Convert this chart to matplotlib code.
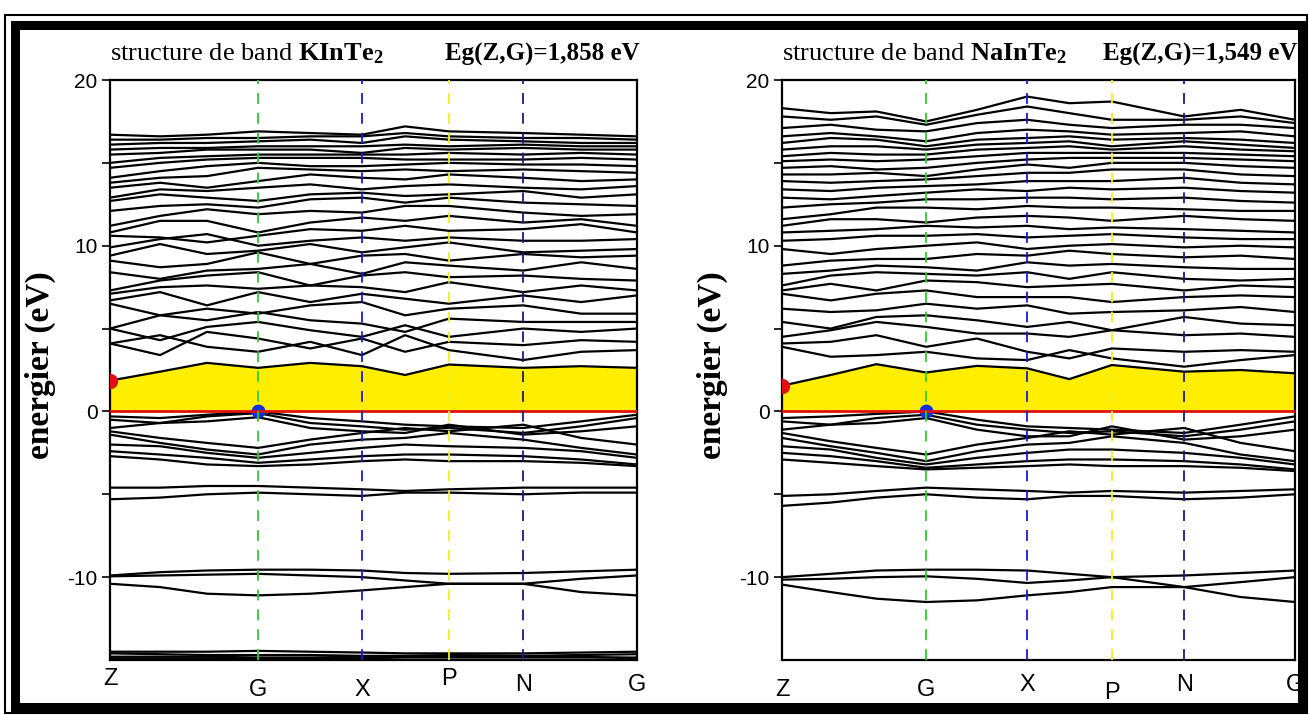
import matplotlib
matplotlib.use("Agg")
import matplotlib.pyplot as plt
from matplotlib.patches import Rectangle

# ---------------- data ----------------
# high-symmetry labels and positions along the k-path (fraction of path length)
k_labels = ["Z", "G", "X", "P", "N", "G"]
k_label_pos = [0.0, 0.281, 0.478, 0.643, 0.784, 1.0]
# sampling nodes along the path: Z, a, b, G, c, X, d, P, N, e, G
k_nodes = [0.0, 0.095, 0.184, 0.281, 0.380, 0.478, 0.560, 0.643, 0.784, 0.894, 1.0]

# ---- KInTe2 ----
kinte2_core = [
    [-14.50, -14.50, -14.50, -14.45, -14.50, -14.55, -14.60, -14.60, -14.60, -14.55, -14.50],
    [-14.60, -14.65, -14.70, -14.70, -14.70, -14.75, -14.75, -14.70, -14.75, -14.80, -14.90],
    [-14.80, -14.80, -14.80, -14.85, -14.85, -14.80, -14.80, -14.75, -14.75, -14.70, -14.65],
    [-14.90, -14.90, -14.90, -14.90, -14.90, -14.90, -14.85, -14.85, -14.85, -14.85, -14.85],
    [-9.90, -9.70, -9.60, -9.55, -9.55, -9.60, -9.75, -9.80, -9.75, -9.65, -9.55],
    [-9.95, -9.90, -9.85, -9.80, -9.90, -10.00, -10.20, -10.40, -10.40, -10.10, -9.90],
    [-10.40, -10.60, -11.00, -11.10, -11.00, -10.80, -10.60, -10.40, -10.40, -10.90, -11.10],
    [-4.60, -4.60, -4.50, -4.50, -4.60, -4.70, -4.80, -4.70, -4.60, -4.60, -4.60],
    [-5.30, -5.20, -5.00, -4.90, -5.00, -5.10, -4.90, -4.90, -5.00, -4.90, -4.90],
]
kinte2_valence = [
    [-0.30, -0.40, -0.20, 0.00, -0.40, -0.60, -0.80, -0.90, -1.00, -0.60, -0.20],
    [-0.50, -0.70, -0.30, -0.10, -0.70, -0.90, -1.10, -1.00, -1.30, -0.90, -0.40],
    [-1.00, -0.70, -0.60, -0.35, -1.00, -1.20, -1.30, -0.80, -1.40, -1.20, -0.90],
    [-1.20, -1.60, -1.90, -2.20, -1.70, -1.30, -1.00, -1.20, -0.80, -1.60, -2.00],
    [-1.40, -1.90, -2.30, -2.60, -2.00, -1.70, -1.60, -1.30, -1.70, -2.20, -2.60],
    [-2.00, -2.10, -2.50, -2.80, -2.50, -2.20, -2.00, -2.10, -2.20, -2.40, -2.80],
    [-2.40, -2.60, -2.80, -3.10, -2.90, -2.70, -2.60, -2.60, -2.70, -2.90, -3.20],
    [-2.70, -2.90, -3.20, -3.30, -3.20, -3.00, -2.90, -3.00, -3.00, -3.10, -3.30],
]
kinte2_conduction = [
    [1.858, 2.40, 2.93, 2.63, 2.93, 2.73, 2.20, 2.83, 2.63, 2.73, 2.63],
    [4.1, 4.6, 3.9, 3.6, 4.2, 3.4, 4.6, 3.7, 3.1, 3.6, 3.7],
    [4.1, 3.4, 4.8, 4.4, 3.8, 4.4, 3.6, 4.2, 4.0, 4.3, 4.2],
    [5.0, 4.3, 5.1, 5.4, 4.9, 4.5, 5.2, 4.5, 5.0, 4.8, 5.0],
    [5.0, 5.8, 5.5, 6.0, 5.5, 5.3, 4.8, 5.6, 5.4, 5.4, 5.4],
    [6.5, 5.8, 6.2, 5.9, 6.4, 6.6, 5.8, 6.2, 6.4, 5.9, 5.9],
    [6.7, 7.2, 6.4, 7.2, 6.6, 7.1, 6.8, 6.5, 7.0, 6.6, 7.0],
    [7.1, 7.5, 7.6, 7.4, 7.6, 7.5, 7.2, 7.8, 7.2, 7.6, 7.3],
    [7.3, 7.9, 8.2, 8.4, 7.6, 8.2, 8.4, 8.1, 8.2, 8.0, 7.9],
    [8.4, 8.0, 8.5, 8.6, 8.9, 8.3, 9.0, 8.8, 8.5, 9.0, 8.6],
    [9.1, 8.7, 8.9, 9.6, 8.9, 9.4, 9.5, 9.1, 9.5, 9.3, 9.4],
    [9.4, 10.1, 9.5, 9.7, 10.1, 9.6, 9.9, 10.2, 9.6, 9.7, 9.8],
    [9.9, 10.4, 10.7, 10.0, 10.3, 10.5, 10.3, 10.5, 10.3, 10.3, 10.4],
    [10.6, 10.5, 10.2, 10.6, 11.0, 10.9, 11.2, 10.9, 11.0, 11.3, 10.8],
    [10.8, 11.5, 11.5, 10.8, 11.4, 11.7, 11.5, 11.8, 11.4, 11.6, 11.2],
    [11.2, 11.8, 12.2, 11.9, 12.1, 12.0, 12.4, 12.4, 12.0, 11.8, 11.9],
    [12.1, 12.4, 12.5, 12.3, 12.8, 12.9, 12.6, 12.9, 12.6, 12.5, 12.4],
    [12.7, 13.1, 12.9, 12.7, 13.1, 13.2, 13.0, 13.1, 13.3, 12.9, 13.1],
    [12.9, 13.4, 13.3, 13.5, 13.7, 13.4, 13.6, 13.7, 13.5, 13.4, 13.6],
    [13.5, 13.8, 13.5, 13.9, 14.3, 14.1, 14.0, 14.3, 14.1, 13.9, 14.0],
    [13.8, 14.1, 14.2, 14.7, 14.6, 14.5, 14.6, 14.5, 14.6, 14.5, 14.4],
    [14.1, 14.5, 14.8, 15.0, 14.8, 14.8, 14.9, 15.0, 14.9, 14.9, 14.8],
    [14.7, 15.0, 15.2, 15.3, 15.3, 15.3, 15.2, 15.2, 15.2, 15.3, 15.2],
    [15.0, 15.3, 15.4, 15.5, 15.5, 15.5, 15.5, 15.6, 15.5, 15.6, 15.5],
    [15.5, 15.6, 15.8, 15.8, 15.8, 15.6, 15.9, 15.8, 15.9, 15.8, 15.8],
    [15.8, 15.9, 15.9, 16.0, 16.0, 16.0, 16.1, 16.0, 16.1, 16.0, 16.0],
    [16.1, 16.2, 16.2, 16.3, 16.4, 16.2, 16.6, 16.4, 16.3, 16.2, 16.2],
    [16.4, 16.4, 16.5, 16.5, 16.6, 16.6, 16.8, 16.6, 16.5, 16.5, 16.4],
    [16.7, 16.6, 16.7, 16.9, 16.8, 16.7, 17.2, 16.9, 16.8, 16.7, 16.6],
]

# ---- NaInTe2 ----
nainte2_core = [
    [-10.00, -9.80, -9.60, -9.55, -9.55, -9.60, -9.80, -10.00, -9.90, -9.75, -9.60],
    [-10.15, -10.10, -10.00, -9.95, -10.10, -10.35, -10.20, -10.00, -10.60, -10.30, -10.00],
    [-10.45, -10.90, -11.30, -11.50, -11.40, -11.10, -10.90, -10.60, -10.60, -11.20, -11.50],
    [-5.10, -5.00, -4.80, -4.60, -4.70, -4.80, -4.90, -4.80, -4.90, -4.80, -4.70],
    [-5.70, -5.50, -5.20, -5.00, -5.20, -5.30, -5.10, -5.10, -5.30, -5.20, -5.00],
]
nainte2_valence = [
    [-0.40, -0.30, -0.15, 0.00, -0.50, -0.90, -1.00, -1.10, -1.30, -0.80, -0.30],
    [-0.60, -0.80, -0.40, -0.20, -0.80, -1.10, -1.30, -1.20, -1.50, -1.10, -0.60],
    [-1.10, -0.80, -0.70, -0.40, -1.10, -1.50, -1.50, -0.90, -1.70, -1.50, -1.10],
    [-1.30, -1.80, -2.20, -2.60, -2.00, -1.60, -1.20, -1.40, -1.00, -1.90, -2.40],
    [-1.60, -2.10, -2.50, -3.00, -2.40, -2.00, -1.90, -1.50, -1.90, -2.60, -3.00],
    [-2.10, -2.30, -2.80, -3.20, -2.80, -2.50, -2.30, -2.30, -2.50, -2.80, -3.20],
    [-2.50, -2.70, -3.00, -3.40, -3.20, -3.00, -2.90, -2.90, -3.00, -3.20, -3.50],
    [-2.90, -3.10, -3.30, -3.50, -3.40, -3.30, -3.20, -3.30, -3.30, -3.40, -3.60],
]
nainte2_conduction = [
    [1.549, 2.20, 2.85, 2.35, 2.75, 2.60, 1.95, 2.80, 2.40, 2.50, 2.30],
    [3.9, 3.3, 3.4, 3.6, 3.2, 3.1, 3.7, 3.2, 2.7, 3.1, 3.4],
    [4.1, 4.2, 4.6, 3.9, 4.4, 3.6, 3.2, 3.8, 3.6, 3.7, 3.6],
    [4.5, 4.9, 5.4, 5.1, 4.7, 4.7, 4.5, 4.9, 4.6, 4.7, 4.5],
    [5.4, 5.0, 5.7, 5.8, 5.5, 5.1, 5.4, 4.9, 5.7, 5.3, 5.2],
    [6.2, 6.0, 6.1, 6.5, 6.2, 6.4, 5.9, 6.0, 6.1, 6.3, 6.0],
    [7.1, 6.7, 7.1, 7.3, 6.9, 6.9, 6.9, 6.6, 6.9, 7.0, 6.9],
    [7.3, 7.7, 7.3, 7.9, 7.8, 7.5, 7.6, 7.7, 7.3, 7.6, 7.5],
    [7.6, 8.2, 8.4, 8.3, 8.2, 8.4, 8.0, 8.4, 8.0, 7.9, 8.0],
    [8.3, 8.5, 8.8, 8.7, 8.5, 9.0, 8.8, 8.9, 8.7, 8.6, 8.6],
    [8.8, 9.1, 9.2, 9.2, 9.5, 9.4, 9.7, 9.5, 9.3, 9.4, 9.2],
    [9.8, 9.5, 9.8, 10.0, 10.2, 9.8, 10.0, 10.1, 9.9, 10.0, 9.9],
    [10.3, 10.4, 10.6, 10.6, 10.7, 10.5, 10.6, 10.7, 10.5, 10.4, 10.4],
    [10.8, 10.9, 11.0, 11.2, 11.1, 11.2, 11.0, 11.1, 11.0, 10.9, 10.8],
    [11.2, 11.6, 11.6, 11.4, 11.7, 11.8, 11.7, 11.5, 11.8, 11.6, 11.5],
    [11.6, 11.9, 12.3, 12.3, 12.2, 12.4, 12.3, 12.3, 12.2, 12.1, 12.1],
    [12.3, 12.5, 12.6, 12.8, 12.8, 12.9, 12.9, 12.8, 12.9, 12.7, 12.6],
    [12.9, 12.8, 13.0, 13.2, 13.4, 13.3, 13.5, 13.4, 13.5, 13.3, 13.2],
    [13.4, 13.3, 13.5, 13.6, 13.7, 13.9, 13.9, 13.9, 14.1, 13.8, 13.7],
    [13.9, 13.8, 13.9, 14.0, 14.2, 14.4, 14.4, 14.6, 14.6, 14.3, 14.2],
    [14.3, 14.3, 14.4, 14.2, 14.6, 14.9, 14.7, 15.0, 15.0, 14.8, 14.7],
    [14.7, 14.8, 14.6, 14.7, 15.0, 15.2, 15.3, 15.3, 15.3, 15.2, 15.1],
    [15.1, 15.2, 15.1, 15.2, 15.4, 15.6, 15.6, 15.6, 15.6, 15.5, 15.4],
    [15.4, 15.6, 15.5, 15.5, 15.8, 15.9, 16.0, 15.8, 16.0, 15.8, 15.7],
    [15.8, 16.0, 16.0, 15.8, 16.1, 16.2, 16.3, 16.0, 16.3, 16.1, 15.9],
    [16.2, 16.5, 16.4, 16.0, 16.4, 16.5, 16.6, 16.4, 16.5, 16.4, 16.2],
    [16.6, 16.8, 16.6, 16.3, 16.8, 17.0, 16.9, 16.7, 16.8, 16.9, 16.6],
    [17.1, 17.3, 17.0, 16.9, 17.4, 17.6, 17.3, 17.1, 17.3, 17.3, 17.1],
    [17.8, 17.6, 17.8, 17.3, 17.9, 18.4, 18.0, 17.6, 17.6, 17.8, 17.4],
    [18.3, 18.0, 18.1, 17.5, 18.2, 19.0, 18.6, 18.7, 17.8, 18.2, 17.6],
]

compounds = ["KInTe", "NaInTe"]
gap_values = ["1,858", "1,549"]

# ---------------- style ----------------
plt.rcParams["mathtext.fontset"] = "custom"
plt.rcParams["mathtext.rm"] = "Liberation Serif"
plt.rcParams["mathtext.bf"] = "Liberation Serif:bold"

SERIF = "Liberation Serif"
SANS = ["Liberation Sans Narrow", "Liberation Sans", "DejaVu Sans"]
vline_colors = {"G": "#2ecc2e", "X": "#1a1acc", "P": "#f0f020", "N": "#1a1a80"}
# vertical drop (points) of each k-point label below the axis
label_dy = {0: [6, 14, 14, 6, 10, 10], 1: [14, 14, 10, 16, 10, 10]}

W, H = 1309, 715
fig = plt.figure(figsize=(W / 100, H / 100), dpi=100)

# double page border: thin outer line and thick inner line
def frame_px(x0, y0, x1, y1, lw):
    fig.patches.append(Rectangle((x0 / W, 1 - y1 / H), (x1 - x0) / W, (y1 - y0) / H,
                                 transform=fig.transFigure, fill=False,
                                 edgecolor="black", linewidth=lw, zorder=0))

frame_px(5, 15, 1307, 713, 1.5)
frame_px(14.5, 24.5, 1301.5, 707, 6.5)

axes_px = [(110, 637), (782, 1295)]
ylabel_x = [40, 712]
top_px, bot_px = 80, 660

panels = [
    (kinte2_core, kinte2_valence, kinte2_conduction),
    (nainte2_core, nainte2_valence, nainte2_conduction),
]

for i, ((x0, x1), (core, val, cond)) in enumerate(zip(axes_px, panels)):
    ax = fig.add_axes([x0 / W, 1 - bot_px / H, (x1 - x0) / W, (bot_px - top_px) / H])
    ax.set_xlim(0, 1)
    ax.set_ylim(-15, 20)

    # gap region between Fermi level and lowest conduction band
    ax.fill_between(k_nodes, 0, cond[0], color="#ffee00", lw=0, zorder=1)

    for band in core + val + cond:
        ax.plot(k_nodes, band, color="black", lw=1.6, zorder=3)

    # Fermi level
    ax.axhline(0, color="#e01010", lw=2.0, zorder=4)

    # high-symmetry verticals
    for lab, xp in zip(k_labels[1:-1], k_label_pos[1:-1]):
        ax.axvline(xp, color=vline_colors[lab], lw=1.3, ls=(0, (6, 5)), zorder=5)

    # band edges: CBM at Z, VBM at G
    ax.plot(k_nodes[0], cond[0][0], "o", color="#e01010", ms=10, zorder=6)
    ax.plot(k_label_pos[1], val[0][3], "o", color="#1030e0", ms=9, zorder=3.5)

    ax.set_yticks([-10, -5, 0, 5, 10, 15, 20])
    ax.set_yticklabels(["-10", "", "0", "", "10", "", "20"])
    ax.tick_params(axis="y", direction="out", length=6, width=1.2, labelsize=15, pad=3)
    for t in ax.get_yticklabels():
        t.set_family(SANS)
    ax.set_xticks([])
    for s in ax.spines.values():
        s.set_linewidth(1.6)

    for lab, xp, dy in zip(k_labels, k_label_pos, label_dy[i]):
        ax.annotate(lab, xy=(xp, 0), xycoords="axes fraction",
                    xytext=(0, -dy), textcoords="offset points",
                    ha="center", va="top", fontsize=17, family=SANS)

    fig.text(ylabel_x[i] / W, 1 - 365 / H, "energier (eV)", rotation=90,
             ha="center", va="center", family=SERIF, fontweight="bold", fontsize=24)

    ax.text(0.0, 1.025, "structure de band $\\mathbf{" + compounds[i] + "_2}$",
            transform=ax.transAxes, ha="left", va="bottom", fontsize=19, family=SERIF)
    ax.text(1.005, 1.025, "Eg(Z,G)=" + gap_values[i] + " eV",
            transform=ax.transAxes, ha="right", va="bottom", fontsize=18,
            family=SERIF, fontweight="bold")

fig.savefig("out.png", dpi=100)
